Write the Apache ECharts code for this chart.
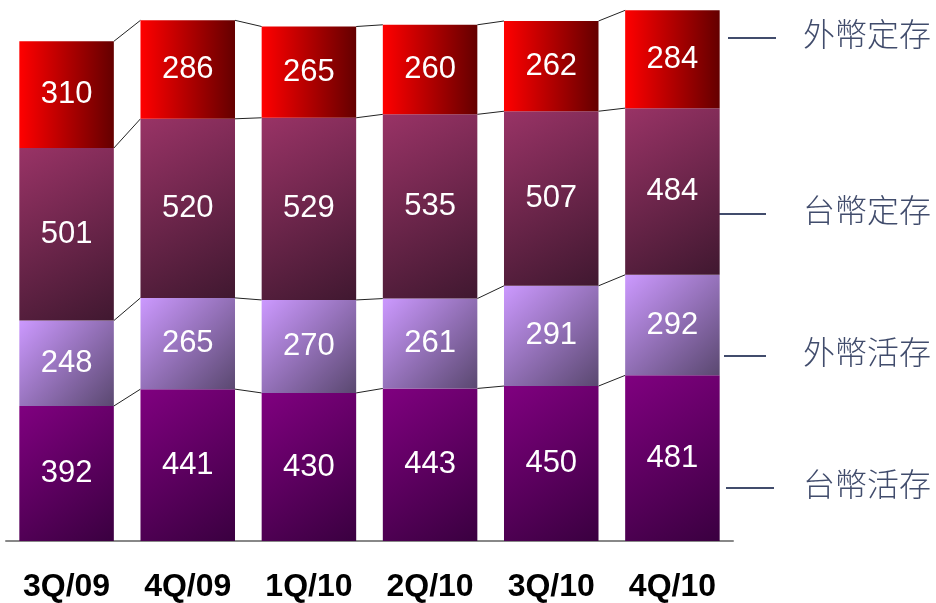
<!DOCTYPE html>
<html>
<head>
<meta charset="utf-8">
<script src="https://cdn.jsdelivr.net/npm/echarts@6/dist/echarts.min.js"></script>
<style>
  html, body { margin: 0; padding: 0; background: #fff; }
  #main { width: 936px; height: 603px; }
</style>
</head>
<body>
<div id="main"></div>
<script>
// 季度
var quarters = ['3Q/09', '4Q/09', '1Q/10', '2Q/10', '3Q/10', '4Q/10'];
// 存款结构 (由下而上)
var ntdDemand = [392, 441, 430, 443, 450, 481];   // 台幣活存
var fxDemand  = [248, 265, 270, 261, 291, 292];   // 外幣活存
var ntdTime   = [501, 520, 529, 535, 507, 484];   // 台幣定存
var fxTime    = [310, 286, 265, 260, 262, 284];   // 外幣定存
var seriesNames = ['台幣活存', '外幣活存', '台幣定存', '外幣定存'];

var stacks = [ntdDemand, fxDemand, ntdTime, fxTime];

var chart = echarts.init(document.getElementById('main'));

function grad(x2, y2, c1, c2) {
  return new echarts.graphic.LinearGradient(0, 0, x2, y2, [
    { offset: 0, color: c1 },
    { offset: 1, color: c2 }
  ]);
}

var fills = [
  grad(1, 1, '#800080', '#3a0040'),
  grad(1, 1, '#cc99ff', '#5a4870'),
  grad(1, 1, '#993366', '#401830'),
  grad(1, 0, '#ff0000', '#640000')
];

var barSeries = stacks.map(function (arr, k) {
  return {
    name: seriesNames[k],
    type: 'bar',
    stack: 'total',
    barWidth: '78%',
    data: arr,
    itemStyle: { color: fills[k] },
    label: {
      show: true,
      position: 'inside',
      color: '#fff',
      fontFamily: 'Liberation Sans, Arial',
      fontSize: 31
    }
  };
});

// 柱子之间的连接线
var connector = {
  type: 'custom',
  silent: true,
  data: quarters.slice(0, -1).map(function (q, i) { return [i]; }),
  renderItem: function (params, api) {
    var i = api.value(0);
    var half = api.size([1, 0])[0] * 0.39;
    var children = [];
    var a = 0, b = 0;
    for (var k = 0; k < stacks.length; k++) {
      a += stacks[k][i];
      b += stacks[k][i + 1];
      var p1 = api.coord([i, a]);
      var p2 = api.coord([i + 1, b]);
      children.push({
        type: 'line',
        shape: { x1: p1[0] + half, y1: p1[1], x2: p2[0] - half, y2: p2[1] },
        style: { stroke: '#222', lineWidth: 1 }
      });
    }
    return { type: 'group', children: children };
  },
  z: 1
};

// 右侧图例
var legendItems = [
  { text: '外幣定存', y: 37, x1: 728, x2: 776 },
  { text: '台幣定存', y: 213, x1: 718, x2: 766 },
  { text: '外幣活存', y: 355, x1: 724, x2: 766 },
  { text: '台幣活存', y: 487, x1: 726, x2: 774 }
];
var graphics = [];
legendItems.forEach(function (it) {
  graphics.push({
    type: 'line',
    shape: { x1: it.x1, y1: it.y + 1, x2: it.x2, y2: it.y + 1 },
    style: { stroke: '#414c6c', lineWidth: 2 }
  });
  graphics.push({
    type: 'text',
    left: 803,
    top: it.y - 19,
    style: {
      text: it.text,
      fill: '#414c6c',
      font: '300 32px "Noto Sans CJK TC"'
    }
  });
});

var option = {
  animation: false,
  grid: { left: 6, right: 203, top: 0, bottom: 61 },
  xAxis: {
    type: 'category',
    data: quarters,
    axisLine: { lineStyle: { color: '#888', width: 2 } },
    axisTick: { show: false },
    axisLabel: {
      color: '#000',
      fontWeight: 'bold',
      fontFamily: 'Liberation Sans, Arial',
      fontSize: 32,
      margin: 30
    }
  },
  yAxis: {
    type: 'value',
    min: 0,
    max: 1571,
    show: false,
    splitLine: { show: false }
  },
  series: barSeries.concat([connector]),
  graphic: graphics
};

chart.setOption(option);
</script>
</body>
</html>
